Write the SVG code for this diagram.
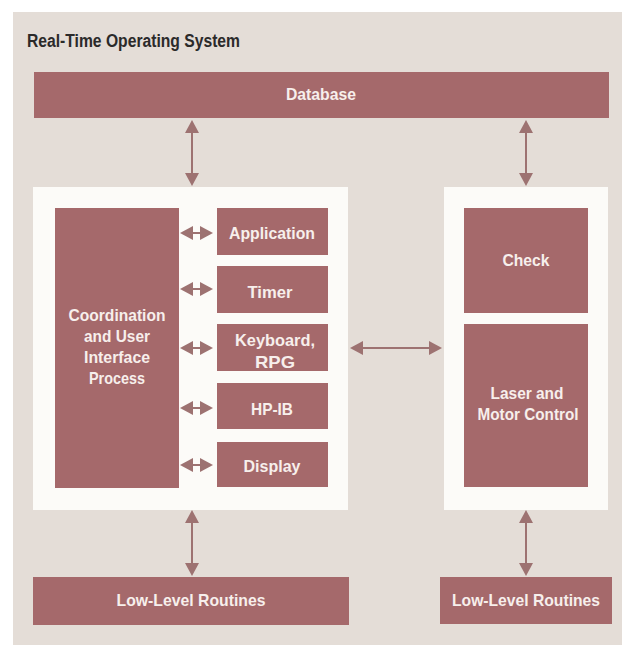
<svg xmlns="http://www.w3.org/2000/svg" width="622" height="645" viewBox="0 0 622 645">
<style>
.bar{fill:#a5696b}
.panel{fill:#fcfbf8}
.lbl{font-family:"Liberation Sans",Arial,sans-serif;font-weight:bold;font-size:17px;fill:#f7efec;text-anchor:middle}
.title{font-family:"Liberation Sans",Arial,sans-serif;font-weight:bold;font-size:18px;fill:#2b2a2a}
.conn{stroke:#9d7271;stroke-width:2;fill:none;marker-start:url(#ah);marker-end:url(#ah)}
</style>
<defs>
<marker id="ah" viewBox="0 0 13 14" refX="11" refY="7" markerWidth="13" markerHeight="14" markerUnits="userSpaceOnUse" orient="auto-start-reverse">
<path d="M0,0 L13,7 L0,14 z" fill="#9d7271"/>
</marker>
</defs>
<rect x="0" y="0" width="622" height="645" fill="#ffffff"/>
<rect id="background" x="13" y="12" width="609" height="633" fill="#e4ddd7"/>
<text class="title" x="27" y="47" textLength="213" lengthAdjust="spacingAndGlyphs">Real-Time Operating System</text>
<g id="database">
<rect class="bar" x="34" y="72" width="575" height="46"/>
<text class="lbl" x="321" y="100" textLength="70" lengthAdjust="spacingAndGlyphs">Database</text>
</g>
<g id="left-panel">
<rect class="panel" x="33" y="187" width="315" height="323"/>
</g>
<g id="right-panel">
<rect class="panel" x="444" y="187" width="164" height="323"/>
</g>
<g id="coordination">
<rect class="bar" x="55" y="208" width="124" height="280"/>
<text class="lbl" x="117" y="321" textLength="97" lengthAdjust="spacingAndGlyphs">Coordination</text>
<text class="lbl" x="117" y="342" textLength="66" lengthAdjust="spacingAndGlyphs">and User</text>
<text class="lbl" x="117" y="363" textLength="66" lengthAdjust="spacingAndGlyphs">Interface</text>
<text class="lbl" x="117" y="384" textLength="56" lengthAdjust="spacingAndGlyphs">Process</text>
</g>
<g id="application">
<rect class="bar" x="217" y="208" width="111" height="47"/>
<text class="lbl" x="272" y="239" textLength="86" lengthAdjust="spacingAndGlyphs">Application</text>
</g>
<g id="timer">
<rect class="bar" x="217" y="266" width="111" height="47"/>
<text class="lbl" x="270" y="298" textLength="45" lengthAdjust="spacingAndGlyphs">Timer</text>
</g>
<g id="keyboard">
<rect class="bar" x="217" y="324" width="111" height="47"/>
<text class="lbl" x="275" y="346" textLength="80" lengthAdjust="spacingAndGlyphs">Keyboard,</text>
<text class="lbl" x="275" y="368" textLength="40" lengthAdjust="spacingAndGlyphs">RPG</text>
</g>
<g id="hpib">
<rect class="bar" x="217" y="383" width="111" height="46"/>
<text class="lbl" x="272" y="415" textLength="42" lengthAdjust="spacingAndGlyphs">HP-IB</text>
</g>
<g id="display">
<rect class="bar" x="217" y="442" width="111" height="45"/>
<text class="lbl" x="272" y="472" textLength="57" lengthAdjust="spacingAndGlyphs">Display</text>
</g>
<g id="check">
<rect class="bar" x="464" y="208" width="124" height="105"/>
<text class="lbl" x="526" y="266" textLength="47" lengthAdjust="spacingAndGlyphs">Check</text>
</g>
<g id="laser">
<rect class="bar" x="464" y="324" width="124" height="163"/>
<text class="lbl" x="527" y="399" textLength="73" lengthAdjust="spacingAndGlyphs">Laser and</text>
<text class="lbl" x="528" y="420" textLength="101" lengthAdjust="spacingAndGlyphs">Motor Control</text>
</g>
<g id="low-left">
<rect class="bar" x="33" y="577" width="316" height="48"/>
<text class="lbl" x="191" y="606" textLength="149" lengthAdjust="spacingAndGlyphs">Low-Level Routines</text>
</g>
<g id="low-right">
<rect class="bar" x="440" y="577" width="172" height="47"/>
<text class="lbl" x="526" y="606" textLength="148" lengthAdjust="spacingAndGlyphs">Low-Level Routines</text>
</g>
<g id="connectors">
<line class="conn" x1="192" y1="122" x2="192" y2="184"/>
<line class="conn" x1="526" y1="122" x2="526" y2="184"/>
<line class="conn" x1="192" y1="512" x2="192" y2="574"/>
<line class="conn" x1="526" y1="512" x2="526" y2="574"/>
<line class="conn" x1="182" y1="233" x2="211" y2="233"/>
<line class="conn" x1="182" y1="289" x2="211" y2="289"/>
<line class="conn" x1="182" y1="348" x2="211" y2="348"/>
<line class="conn" x1="182" y1="408" x2="211" y2="408"/>
<line class="conn" x1="182" y1="465" x2="211" y2="465"/>
<line class="conn" x1="352" y1="348" x2="440" y2="348"/>
</g>
</svg>
